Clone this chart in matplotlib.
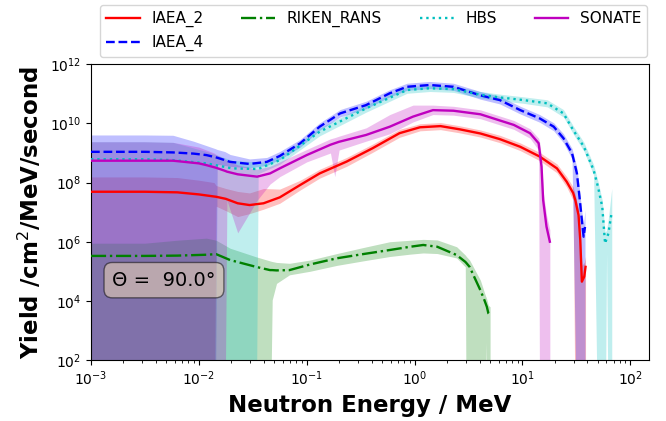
import numpy as np
import matplotlib
matplotlib.use("Agg")
import matplotlib.pyplot as plt
from matplotlib.ticker import NullLocator

# ---------------- data (log10 of energy in MeV, log10 of yield) ----------------
# value -1 for a band lower edge means "uncertainty reaches zero" (below the axis)
iaea2_log_e = [-3.00, -2.50, -2.20, -2.00, -1.86, -1.84, -1.75, -1.64, -1.53, -1.40, -1.25, -1.06,
               -0.88, -0.63, -0.39, -0.14, 0.05, 0.24, 0.42, 0.61, 0.79, 0.98, 1.16, 1.32, 1.41,
               1.47, 1.49, 1.52, 1.536, 1.551, 1.573, 1.585]
iaea2_log_y = [7.69, 7.69, 7.67, 7.60, 7.53, 7.52, 7.45, 7.30, 7.24, 7.30, 7.50, 7.92,
               8.31, 8.71, 9.16, 9.67, 9.87, 9.91, 9.80, 9.66, 9.47, 9.21, 8.88, 8.48, 8.03,
               7.65, 7.41, 6.90, 6.06, 4.65, 4.82, 5.15]
iaea2_log_lo = [-1, -1, -1, -1, -1, 7.20, 7.05, 6.85, 6.95, 7.10, 7.30, 7.75,
                8.15, 8.55, 9.02, 9.53, 9.75, 9.79, 9.68, 9.54, 9.35, 9.08, 8.74, 8.33, 7.85,
                7.40, -1, -1, -1, -1, -1, -1]
iaea2_log_hi = [8.19, 8.19, 8.17, 8.08, 8.00, 7.90, 7.80, 7.70, 7.65, 7.80, 7.78, 8.08,
                8.45, 8.85, 9.30, 9.80, 9.99, 10.03, 9.92, 9.78, 9.60, 9.34, 9.02, 8.63, 8.20,
                7.85, 7.60, 7.10, 6.40, 5.20, 5.30, 5.50]

iaea4_log_e = [-3.00, -2.50, -2.24, -2.05, -1.93, -1.85, -1.83, -1.76, -1.71, -1.53, -1.37, -1.25,
               -1.06, -0.88, -0.69, -0.45, -0.23, -0.07, 0.14, 0.36, 0.61, 0.79, 0.98, 1.16,
               1.29, 1.38, 1.46, 1.505, 1.529, 1.551, 1.567, 1.58]
iaea4_log_y = [9.04, 9.04, 9.02, 8.98, 8.93, 8.86, 8.84, 8.76, 8.70, 8.63, 8.70, 8.90,
               9.33, 9.89, 10.34, 10.62, 11.02, 11.24, 11.30, 11.24, 10.95, 10.79, 10.45, 10.17,
               9.89, 9.50, 8.99, 8.31, 7.51, 6.73, 6.17, 6.50]
iaea4_log_lo = [-1, -1, -1, -1, -1, -1, 8.62, 8.58, 8.55, 8.50, 8.58, 8.78,
                9.20, 9.77, 10.22, 10.50, 10.90, 11.12, 11.18, 11.12, 10.82, 10.66, 10.32, 10.04,
                9.75, 9.35, 8.80, -1, -1, -1, -1, -1]
iaea4_log_hi = [9.61, 9.61, 9.60, 9.40, 9.25, 9.15, 9.12, 9.05, 8.95, 8.80, 8.85, 9.05,
                9.46, 10.02, 10.47, 10.75, 11.14, 11.36, 11.42, 11.36, 11.08, 10.92, 10.58, 10.30,
                10.02, 9.65, 9.15, 8.50, 7.75, 7.00, 6.60, 7.07]

riken_log_e = [-3.00, -2.50, -2.20, -1.93, -1.84, -1.71, -1.47, -1.34, -1.32, -1.28, -1.16, -0.97,
               -0.72, -0.48, -0.23, -0.04, 0.08, 0.21, 0.39, 0.47, 0.48, 0.51, 0.61, 0.65,
               0.66, 0.67, 0.684, 0.70]
riken_log_y = [5.52, 5.52, 5.53, 5.56, 5.58, 5.38, 5.15, 5.04, 5.04, 5.03, 5.04, 5.23,
               5.44, 5.58, 5.72, 5.83, 5.89, 5.83, 5.55, 5.32, 5.28, 5.15, 4.36, 4.00,
               3.90, 3.80, 3.58, 3.52]
riken_log_lo = [-1, -1, -1, -1, -1, -1, -1, -1, 4.03, 4.59, 4.88, 5.00,
                5.20, 5.35, 5.50, 5.58, 5.62, 5.60, 5.45, 5.15, -1, -1, -1, -1,
                2.6, -1, -1, -1]
riken_log_hi = [5.95, 5.95, 6.05, 6.12, 6.05, 5.78, 5.49, 5.35, 5.33, 5.30, 5.27, 5.38,
                5.60, 5.80, 6.00, 6.05, 6.08, 6.06, 5.83, 5.55, 5.50, 5.38, 4.70, 4.25,
                4.15, 4.05, 3.85, 3.80]

hbs_log_e = [-3.00, -2.50, -2.24, -1.93, -1.69, -1.47, -1.45, -1.25, -0.88, -0.45, -0.07, 0.14,
             0.36, 0.61, 0.79, 1.01, 1.23, 1.38, 1.47, 1.57, 1.66, 1.70, 1.74, 1.766,
             1.78, 1.797, 1.828]
hbs_log_y = [8.79, 8.79, 8.76, 8.65, 8.48, 8.46, 8.46, 8.76, 9.72, 10.51, 11.13, 11.19,
             11.16, 10.97, 10.88, 10.79, 10.68, 10.34, 9.78, 9.21, 8.42, 7.86, 7.18, 5.94,
             6.10, 6.28, 7.01]
hbs_log_lo = [-1, -1, -1, -1, -1, -1, 8.30, 8.62, 9.58, 10.38, 11.02, 11.08,
              11.05, 10.86, 10.77, 10.68, 10.56, 10.22, 9.65, 9.06, 8.25, -1, -1, -1,
              5.6, -1, -1]
hbs_log_hi = [9.38, 9.38, 9.36, 9.05, 8.75, 8.70, 8.65, 8.90, 9.85, 10.63, 11.24, 11.30,
              11.27, 11.08, 10.99, 10.90, 10.80, 10.47, 9.92, 9.36, 8.60, 8.05, 7.40, 6.30,
              6.40, 6.80, 7.80]

sonate_log_e = [-3.00, -2.50, -2.24, -2.00, -1.93, -1.86, -1.84, -1.76, -1.74, -1.64, -1.46, -1.34,
                -1.25, -1.00, -0.78, -0.74, -0.70, -0.45, -0.23, -0.015, 0.17, 0.36, 0.61, 0.92,
                1.07, 1.15, 1.16, 1.177, 1.192, 1.223, 1.254]
sonate_log_y = [8.74, 8.74, 8.74, 8.65, 8.59, 8.52, 8.50, 8.40, 8.37, 8.28, 8.20, 8.31,
                8.48, 8.93, 9.28, 9.33, 9.38, 9.61, 9.89, 10.23, 10.45, 10.43, 10.31, 9.95,
                9.67, 9.33, 9.05, 8.54, 7.41, 6.51, 6.00]
sonate_log_lo = [-1, -1, -1, -1, -1, -1, -1, -1, 7.40, 6.30, 7.40, 7.95,
                 8.20, 8.70, 9.00, 8.20, 9.10, 9.40, 9.65, 10.05, 10.30, 10.28, 10.16, 9.80,
                 9.50, 9.10, -1, -1, -1, -1, -1]
sonate_log_hi = [9.38, 9.38, 9.36, 9.20, 9.10, 9.00, 8.95, 8.80, 8.75, 8.60, 8.45, 8.55,
                 8.70, 9.12, 9.48, 9.52, 9.57, 9.85, 10.30, 10.62, 10.62, 10.58, 10.46, 10.10,
                 9.82, 9.50, 9.35, 8.85, 7.70, 6.90, 6.40]

series = [
    ("IAEA_2", iaea2_log_e, iaea2_log_y, iaea2_log_lo, iaea2_log_hi, "r", "-"),
    ("IAEA_4", iaea4_log_e, iaea4_log_y, iaea4_log_lo, iaea4_log_hi, "b", "--"),
    ("RIKEN_RANS", riken_log_e, riken_log_y, riken_log_lo, riken_log_hi, "g", "-."),
    ("HBS", hbs_log_e, hbs_log_y, hbs_log_lo, hbs_log_hi, "c", ":"),
    ("SONATE", sonate_log_e, sonate_log_y, sonate_log_lo, sonate_log_hi, "m", "-"),
]

angle_label = "Θ =  90.0°"

# ---------------- plot ----------------
fig = plt.figure(figsize=(6.66, 4.21), dpi=100)
ax = fig.add_axes([91 / 666, 61 / 421, 558.3 / 666, 295.7 / 421])

handles = []
for name, le, ly, llo, lhi, col, ls in series:
    e = 10.0 ** np.asarray(le)
    y = 10.0 ** np.asarray(ly)
    lo = 10.0 ** np.asarray(llo)
    hi = 10.0 ** np.asarray(lhi)
    ax.fill_between(e, lo, hi, color=col, alpha=0.25, linewidth=0, zorder=1)
    h, = ax.plot(e, y, color=col, linestyle=ls, linewidth=1.7, zorder=3, label=name)
    handles.append(h)

ax.set_xscale("log")
ax.set_yscale("log")
ax.set_xlim(1e-3, 150)
ax.set_ylim(1e2, 1e12)
ax.set_yticks([1e2, 1e4, 1e6, 1e8, 1e10, 1e12])
ax.yaxis.set_minor_locator(NullLocator())
ax.tick_params(labelsize=10)

ax.set_xlabel("Neutron Energy / MeV", fontsize=16.5, fontweight="bold")
ax.set_ylabel("Yield /cm$^2$/MeV/second", fontsize=16.5, fontweight="bold")

ax.text(0.038, 0.27, angle_label, transform=ax.transAxes, fontsize=14, va="center", ha="left",
        bbox=dict(boxstyle="round,pad=0.42", facecolor="wheat", alpha=0.5), zorder=10)

fig.legend(handles=handles, loc="upper center", bbox_to_anchor=(0.561, 0.988), ncol=4,
           fontsize=11, columnspacing=2.5, handlelength=2.2, handletextpad=0.75,
           borderaxespad=0.0)

fig.savefig("out.png", dpi=100)
